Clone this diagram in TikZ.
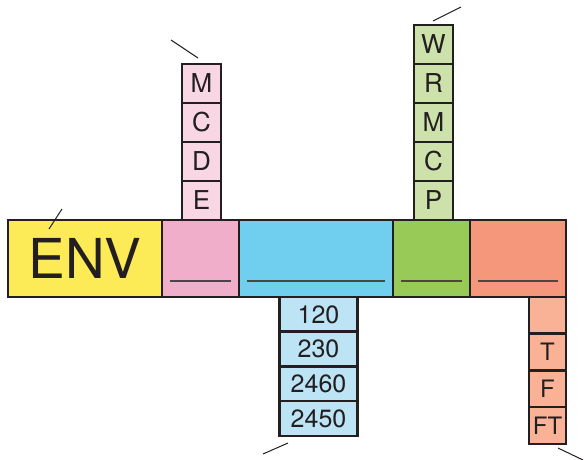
\documentclass[tikz,border=0pt]{standalone}
\usepackage{fontspec}
\setmainfont{TeX Gyre Heros}
\usetikzlibrary{positioning}
\definecolor{ink}{RGB}{35,31,32}
\definecolor{lineGray}{RGB}{72,70,70}
\definecolor{envYellow}{RGB}{252,234,86}
\definecolor{pinkDark}{RGB}{240,174,203}
\definecolor{pinkLight}{RGB}{248,214,228}
\definecolor{blueDark}{RGB}{112,206,238}
\definecolor{blueLight}{RGB}{189,228,245}
\definecolor{greenDark}{RGB}{152,202,88}
\definecolor{greenLight}{RGB}{204,226,170}
\definecolor{orangeDark}{RGB}{245,151,122}
\definecolor{orangeLight}{RGB}{250,178,150}
\tikzstyle{barBox} = [draw=ink, line width=2.5pt, outer sep=0pt, inner sep=0pt,
   minimum height=77pt, text=ink]
\tikzstyle{cellBox} = [draw=ink, line width=2.5pt, outer sep=0pt, inner sep=0pt,
   minimum width=39pt, minimum height=39pt, text=ink, font=\fontsize{26}{26}\selectfont]
\tikzstyle{numCell} = [cellBox, minimum width=78pt, minimum height=34.7pt,
   fill=blueLight, font=\fontsize{25}{25}\selectfont]
\tikzstyle{tCell} = [cellBox, minimum width=37pt, minimum height=36.7pt,
   fill=orangeLight, font=\fontsize{24}{24}\selectfont]
\tikzstyle{underLine} = [line width=1.5pt, draw=lineGray]
\tikzstyle{leader} = [line width=1pt, draw=ink]

\begin{document}
\begin{tikzpicture}[x=1pt, y=-1pt]
  \useasboundingbox (0,0) rectangle (584,460);

  % main bar
  \node[barBox, fill=envYellow, minimum width=154pt, anchor=north west,
        font=\fontsize{55}{55}\selectfont] (env) at (8,220) {ENV};
  \node[barBox, fill=pinkDark, minimum width=77pt, right=0pt of env] (pinkbar) {};
  \node[barBox, fill=blueDark, minimum width=154pt, right=0pt of pinkbar] (bluebar) {};
  \node[barBox, fill=greenDark, minimum width=77pt, right=0pt of bluebar] (greenbar) {};
  \node[barBox, fill=orangeDark, minimum width=96pt, right=0pt of greenbar] (orangebar) {};

  % blank lines inside the bar
  \foreach \b in {pinkbar,bluebar,greenbar,orangebar}
    \draw[underLine] ([shift={(8,-16)}]\b.south west) -- ([shift={(-8,-16)}]\b.south east);

  % pink stack
  \node[cellBox, fill=pinkLight, above=0pt of pinkbar, xshift=1pt] (pE) {E};
  \node[cellBox, fill=pinkLight, above=0pt of pE] (pD) {D};
  \node[cellBox, fill=pinkLight, above=0pt of pD] (pC) {C};
  \node[cellBox, fill=pinkLight, above=0pt of pC] (pM) {M};

  % green stack
  \node[cellBox, fill=greenLight, above=0pt of greenbar, xshift=2pt] (gP) {P};
  \node[cellBox, fill=greenLight, above=0pt of gP] (gC) {C};
  \node[cellBox, fill=greenLight, above=0pt of gC] (gM) {M};
  \node[cellBox, fill=greenLight, above=0pt of gM] (gR) {R};
  \node[cellBox, fill=greenLight, above=0pt of gR] (gW) {W};

  % blue stack
  \node[numCell, below=0pt of bluebar, xshift=2.5pt] (b120) {120};
  \node[numCell, below=0pt of b120] (b230) {230};
  \node[numCell, below=0pt of b230] (b2460) {2460};
  \node[numCell, below=0pt of b2460] (b2450) {2450};

  % orange stack
  \node[tCell, below left=0pt and 0pt of orangebar.south east] (oBlank) {};
  \node[tCell, below=0pt of oBlank] (oT) {T};
  \node[tCell, below=0pt of oT] (oF) {F};
  \node[tCell, below=0pt of oF] (oFT) {FT};

  % leader ticks
  \coordinate (envTickA) at (49,229);    \coordinate (envTickB) at (62,209);
  \coordinate (pinkTickA) at (198,58);   \coordinate (pinkTickB) at (171,40);
  \coordinate (greenTickA) at (433,21);  \coordinate (greenTickB) at (461,7);
  \coordinate (blueTickA) at (288,443);  \coordinate (blueTickB) at (263,454);
  \coordinate (orangeTickA) at (558,448); \coordinate (orangeTickB) at (583,460);
  \draw[leader] (envTickA) -- (envTickB);
  \draw[leader] (pinkTickA) -- (pinkTickB);
  \draw[leader] (greenTickA) -- (greenTickB);
  \draw[leader] (blueTickA) -- (blueTickB);
  \draw[leader] (orangeTickA) -- (orangeTickB);
\end{tikzpicture}
\end{document}
